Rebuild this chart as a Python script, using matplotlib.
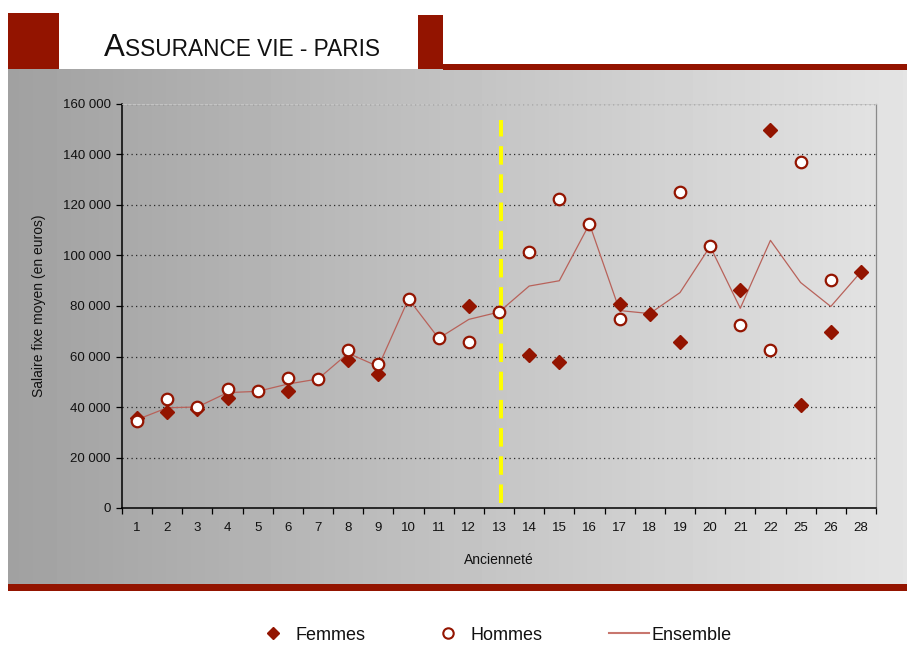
import numpy as np
import matplotlib
matplotlib.use("Agg")
import matplotlib.pyplot as plt
from matplotlib import font_manager
from matplotlib.patches import Rectangle
from matplotlib.lines import Line2D
from matplotlib.ticker import FuncFormatter, FixedLocator

nan = np.nan
categories = ['1', '2', '3', '4', '5', '6', '7', '8', '9', '10', '11', '12', '13',
              '14', '15', '16', '17', '18', '19', '20', '21', '22', '25', '26', '28']
femmes = [35500, 38000, 39300, 43700, nan, 46500, nan, 58600, 53100, nan, nan, 80100, nan,
          60600, 58000, nan, 80800, 76800, 65700, nan, 86200, 149800, 40800, 69700, 93500]
hommes = [34600, 43300, 40000, 47300, 46200, 51600, 51100, 62700, 57200, 82800, 67200, 65900, 77600,
          101400, 122500, 112500, 74900, nan, 125100, 103600, 72600, 62700, 136900, 90300, nan]
ensemble = [35000, 39700, 40000, 45700, 46200, 49100, 51100, 61300, 56000, 82800, 67200, 74700, 77600,
            87900, 90000, 112500, 78200, 77000, 85300, 103600, 79100, 106000, 89300, 79800, 93500]
separator_category = '13'
yticks = [0, 20000, 40000, 60000, 80000, 100000, 120000, 140000, 160000]

names = {f.name for f in font_manager.fontManager.ttflist}
base_font = 'Liberation Sans' if 'Liberation Sans' in names else 'DejaVu Sans'
title_font = 'Liberation Sans Narrow' if 'Liberation Sans Narrow' in names else base_font
plt.rcParams['font.family'] = [base_font, 'DejaVu Sans']

W, H = 907, 666
fig = plt.figure(figsize=(W / 100, H / 100), dpi=100)
fig.patch.set_facecolor('white')

def fx(px):
    return px / W

def fy(py):
    return 1 - py / H

RED = '#931400'

# gradient background panel
bg = fig.add_axes([fx(8), fy(584), fx(907) - fx(8), fy(69) - fy(584)], zorder=0)
grad = np.linspace(0.63, 0.895, 256)[None, :]
bg.imshow(grad, cmap='gray', vmin=0, vmax=1, aspect='auto', extent=[0, 1, 0, 1])
bg.set_axis_off()

# decorative red bars
for (x0, y0, x1, y1) in [(8, 13, 59, 69), (418, 15, 443, 69), (443, 64, 907, 70), (8, 584, 907, 591)]:
    fig.patches.append(Rectangle((fx(x0), fy(y1)), fx(x1) - fx(x0), fy(y0) - fy(y1),
                                 transform=fig.transFigure, facecolor=RED, edgecolor='none', zorder=1))

# title with small caps effect
narrow = title_font != base_font
big, small = (26, 19) if narrow else (22.5, 16.3)
renderer = fig.canvas.get_renderer()
t1 = fig.text(fx(104), fy(56), 'A', fontsize=big, family=[title_font, 'DejaVu Sans'],
              color='#111111', va='baseline', ha='left')
w1 = t1.get_window_extent(renderer=renderer).width
fig.text(fx(104 + w1 + 0.5), fy(56), 'SSURANCE VIE - PARIS', fontsize=small,
         family=[title_font, 'DejaVu Sans'], color='#111111', va='baseline', ha='left')

# main axes
ax = fig.add_axes([fx(122), fy(508), fx(876) - fx(122), fy(104) - fy(508)], zorder=2)
ax.set_facecolor('none')
x = np.arange(len(categories))

ax.plot(x, ensemble, color='#b8625a', lw=0.9, zorder=3)
ax.plot(x, femmes, linestyle='none', marker='D', markersize=7.2, color=RED,
        markeredgecolor=RED, zorder=4)
ax.plot(x, hommes, linestyle='none', marker='o', markersize=8.3, markerfacecolor='white',
        markeredgecolor=RED, markeredgewidth=1.6, zorder=5)

sep = categories.index(separator_category) + 0.06
ax.axvline(sep, ymin=0.012, ymax=0.96, color='#ffff00', lw=2.9, linestyle=(0, (4.6, 2.4)), zorder=2)

ax.set_xlim(-0.5, len(categories) - 0.5)
ax.set_ylim(0, 160000)
ax.set_yticks(yticks)
ax.yaxis.set_major_formatter(FuncFormatter(lambda v, p: f"{int(v):,}".replace(',', ' ')))
ax.set_xticks(x)
ax.set_xticklabels(categories)
ax.xaxis.set_minor_locator(FixedLocator(np.arange(-0.5, len(categories), 1.0)))
ax.tick_params(axis='x', which='major', length=0, pad=10, labelsize=9.5, labelcolor='#111111')
ax.tick_params(axis='x', which='minor', length=4, width=0.9, direction='out', color='black')
ax.tick_params(axis='y', which='major', length=4, width=0.9, direction='out', pad=4,
               labelsize=9.5, labelcolor='#111111')

for yv in yticks[1:]:
    ax.axhline(yv, color='#2a2a2a', lw=0.9, linestyle=(0, (1, 2.6)), zorder=1)

ax.spines['left'].set_color('black')
ax.spines['bottom'].set_color('black')
ax.spines['left'].set_linewidth(1.1)
ax.spines['bottom'].set_linewidth(1.1)
ax.spines['right'].set_color('#8a8a8a')
ax.spines['right'].set_linewidth(0.9)
ax.spines['top'].set_color('#c8c8c8')
ax.spines['top'].set_linewidth(0.6)

ax.set_ylabel('Salaire fixe moyen (en euros)', fontsize=10, color='#111111', labelpad=12.5)
ax.set_xlabel('Ancienneté', fontsize=10, color='#111111', labelpad=14)

# legend
legend_specs = [
    (Line2D([], [], linestyle='none', marker='D', markersize=6.5, color=RED), 'Femmes', 253),
    (Line2D([], [], linestyle='none', marker='o', markersize=7.5, markerfacecolor='white',
            markeredgecolor=RED, markeredgewidth=1.5), 'Hommes', 428),
    (Line2D([], [], color='#c8766e', lw=1.5), 'Ensemble', 609),
]
for handle, label, xstart in legend_specs:
    leg = fig.legend([handle], [label], loc='center left', bbox_to_anchor=(fx(xstart), fy(635)),
                     frameon=False, fontsize=13, handlelength=2.2, handletextpad=0.15,
                     borderpad=0, borderaxespad=0)
    for t in leg.get_texts():
        t.set_color('#111111')

fig.savefig('out.png', dpi=100, facecolor='white')
